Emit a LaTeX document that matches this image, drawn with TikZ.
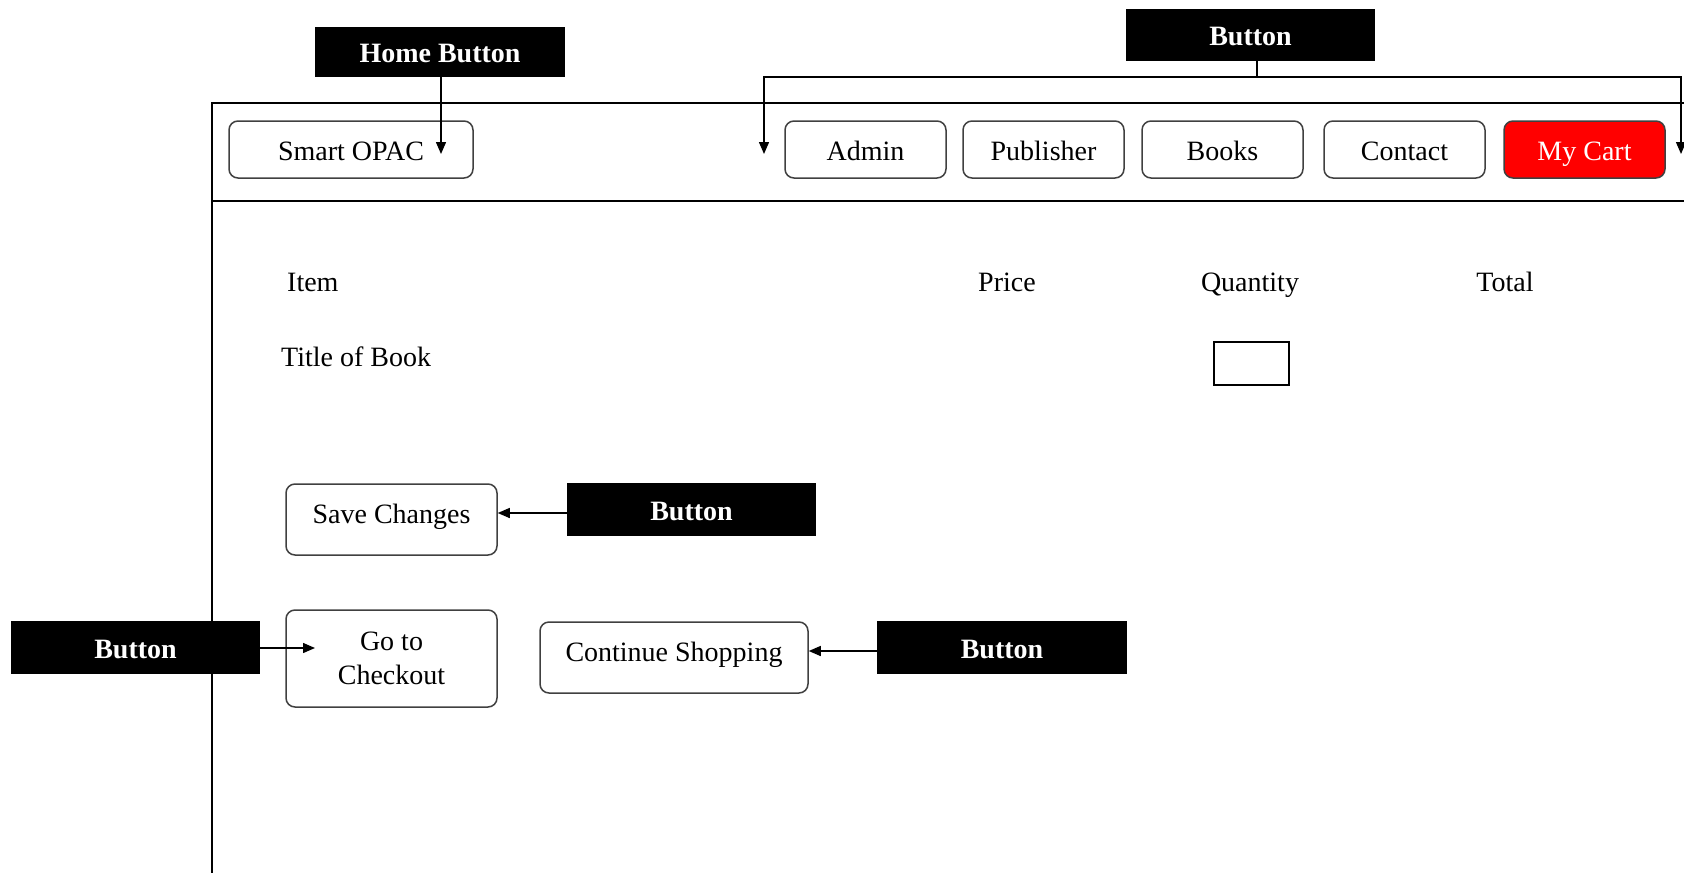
\documentclass[tikz,border=0pt]{standalone}
\usepackage{fontspec}
\setmainfont{Liberation Serif}
\usetikzlibrary{arrows.meta}
\newcommand\myfs{\fontsize{28}{34}\selectfont}
\tikzset{
  btn/.style={draw=black!75, line width=1.5pt, rounded corners=9pt, inner sep=0pt, font=\myfs, align=center},
  hdr/.style={text height=23pt, text depth=2pt},
  body/.style={text height=16pt, text depth=9pt},
  lbl/.style={fill=black, text=white, font=\myfs\bfseries, inner sep=0pt, text height=23pt, text depth=2pt},
  arr/.style={-{Triangle[length=12pt,width=10pt]}, line width=1.4pt},
  frame/.style={line width=1.6pt},
  txt/.style={font=\myfs, inner sep=0pt}
}
\begin{document}
\begin{tikzpicture}[x=1pt,y=-1pt]
\useasboundingbox (0,0) rectangle (1684,873);
% page frame
\draw[frame] (1684,103) -- (212,103) -- (212,873);
\draw[frame] (212,201) -- (1684,201);
% header buttons
\node[btn, hdr, minimum width=244pt, minimum height=57pt] (smart) at (351,149.5) {Smart OPAC};
\node[btn, hdr, minimum width=161pt, minimum height=57pt] (admin) at (865.5,149.5) {Admin};
\node[btn, hdr, minimum width=161pt, minimum height=57pt] (publisher) at (1043.5,149.5) {Publisher};
\node[btn, hdr, minimum width=161pt, minimum height=57pt] (books) at (1222.5,149.5) {Books};
\node[btn, hdr, minimum width=161pt, minimum height=57pt] (contact) at (1404.5,149.5) {Contact};
\node[btn, hdr, minimum width=161pt, minimum height=57pt, fill=red, text=white] (mycart) at (1584.5,149.5) {My Cart};
% labels
\node[lbl, minimum width=250pt, minimum height=50pt] (homelbl) at (440,52) {Home Button};
\node[lbl, minimum width=249pt, minimum height=52pt] (toplbl) at (1250.5,35) {Button};
\node[lbl, minimum width=249pt, minimum height=53pt] (savelbl) at (691.5,509.5) {Button};
\node[lbl, minimum width=249pt, minimum height=53pt] (leftlbl) at (135.5,647.5) {Button};
\node[lbl, minimum width=250pt, minimum height=53pt] (rightlbl) at (1002,647.5) {Button};
% table texts
\node[txt, anchor=base west] (item) at (287,291) {Item};
\node[txt, anchor=base] (price) at (1007,291) {Price};
\node[txt, anchor=base] (qty) at (1250,291) {Quantity};
\node[txt, anchor=base] (total) at (1505,291) {Total};
\node[txt, anchor=base west] (title) at (281,366) {Title of Book};
\node[draw, line width=1.4pt, minimum width=75pt, minimum height=43pt, inner sep=0pt] (qbox) at (1251.5,363.5) {};
% body buttons
\node[btn, body, minimum width=211pt, minimum height=71pt] (save) at (391.5,519.5) {Save Changes};
\node[btn, minimum width=211pt, minimum height=97pt] (checkout) at (391.5,658.5) {Go to\\Checkout};
\node[btn, body, minimum width=268pt, minimum height=71pt] (cont) at (674,657.5) {Continue Shopping};
% connectors
\coordinate (hometip) at (441,154);
\draw[arr] (homelbl.south -| hometip) -- (hometip);
\coordinate (stem) at (1257,77);
\coordinate (ltip) at (764,154);
\coordinate (rtip) at (1681,154);
\draw[line width=1.4pt] (toplbl.south -| stem) -- (stem);
\draw[arr] (stem) -- (ltip |- stem) -- (ltip);
\draw[arr] (stem) -- (rtip |- stem) -- (rtip);
\coordinate (savey) at (0,513);
\draw[arr] (savelbl.west |- savey) -- (save.east |- savey);
\coordinate (cotip) at (315,648);
\draw[arr] (leftlbl.east |- cotip) -- (cotip);
\coordinate (conty) at (0,651);
\draw[arr] (rightlbl.west |- conty) -- (cont.east |- conty);
\end{tikzpicture}
\end{document}
